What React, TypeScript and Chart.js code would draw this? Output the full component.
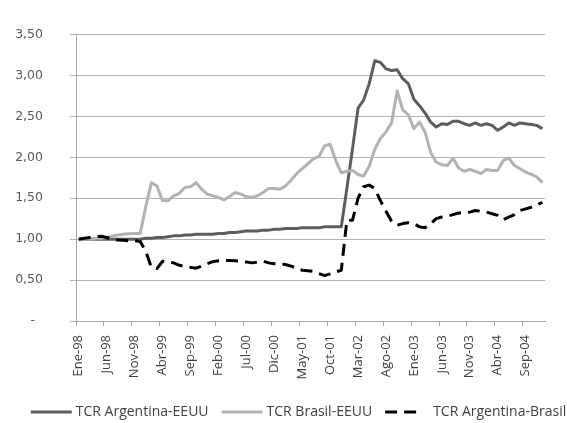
import React, { useEffect, useRef } from 'react';
import { Chart, registerables } from 'chart.js';

Chart.register(...registerables);

const MONTHS = ['Ene', 'Feb', 'Mar', 'Abr', 'May', 'Jun', 'Jul', 'Ago', 'Sep', 'Oct', 'Nov', 'Dic'];
const YEARS = ['98', '99', '00', '01', '02', '03', '04'];
const categories = YEARS.flatMap((y) => MONTHS.map((m) => `${m}-${y}`));
const LABEL_EVERY = 5;

const seriesNames = ['TCR Argentina-EEUU', 'TCR Brasil-EEUU', 'TCR Argentina-Brasil'];

const argEEUU = [
  1.00, 1.00, 1.00, 1.00, 1.00, 1.00, 1.00, 1.00, 1.00, 1.00, 1.00, 1.00,
  1.01, 1.01, 1.02, 1.02, 1.03, 1.04, 1.04, 1.05, 1.05, 1.06, 1.06, 1.06,
  1.06, 1.07, 1.07, 1.08, 1.08, 1.09, 1.10, 1.10, 1.10, 1.11, 1.11, 1.12,
  1.12, 1.13, 1.13, 1.13, 1.14, 1.14, 1.14, 1.14, 1.15, 1.15, 1.15, 1.15,
  1.62, 2.10, 2.60, 2.70, 2.90, 3.18, 3.16, 3.08, 3.06, 3.07, 2.96, 2.90,
  2.71, 2.63, 2.54, 2.43, 2.37, 2.41, 2.40, 2.44, 2.44, 2.41, 2.39, 2.42,
  2.39, 2.41, 2.39, 2.33, 2.37, 2.42, 2.39, 2.42, 2.41, 2.40, 2.39, 2.35,
];

const braEEUU = [
  1.00, 1.00, 1.00, 1.01, 1.01, 1.02, 1.035, 1.05, 1.06, 1.065, 1.07, 1.07,
  1.40, 1.69, 1.65, 1.47, 1.47, 1.53, 1.56, 1.63, 1.64, 1.69, 1.61, 1.55,
  1.53, 1.51, 1.48, 1.52, 1.57, 1.55, 1.52, 1.51, 1.53, 1.57, 1.62, 1.62,
  1.61, 1.65, 1.72, 1.80, 1.86, 1.92, 1.98, 2.01, 2.14, 2.16, 1.96, 1.81,
  1.83, 1.84, 1.79, 1.77, 1.89, 2.10, 2.23, 2.31, 2.42, 2.81, 2.58, 2.52,
  2.35, 2.43, 2.31, 2.06, 1.94, 1.91, 1.90, 1.99, 1.87, 1.83, 1.85, 1.83,
  1.80, 1.85, 1.84, 1.84, 1.96, 1.99, 1.90, 1.86, 1.82, 1.79, 1.76, 1.69,
];

const argBra = [
  1.00, 1.01, 1.02, 1.03, 1.035, 1.02, 1.00, 0.99, 0.985, 0.98, 0.98, 0.97,
  0.85, 0.655, 0.64, 0.73, 0.72, 0.71, 0.68, 0.665, 0.655, 0.645, 0.67, 0.70,
  0.725, 0.735, 0.74, 0.74, 0.735, 0.73, 0.72, 0.71, 0.72, 0.73, 0.71, 0.70,
  0.695, 0.69, 0.67, 0.645, 0.62, 0.615, 0.605, 0.58, 0.555, 0.575, 0.60, 0.62,
  1.23, 1.23, 1.50, 1.64, 1.66, 1.62, 1.47, 1.34, 1.22, 1.17, 1.19, 1.20,
  1.19, 1.15, 1.14, 1.19, 1.25, 1.27, 1.28, 1.30, 1.32, 1.32, 1.33, 1.35,
  1.34, 1.33, 1.31, 1.29, 1.24, 1.27, 1.30, 1.35, 1.37, 1.39, 1.42, 1.45,
];

const Y_MIN = 0;
const Y_MAX = 3.5;
const Y_STEP = 0.5;

const LEGEND_CX = 297;
const LEGEND_Y = 412;

const legendPlugin = {
  id: 'excelLegend',
  afterDraw(chart: any) {
    const ctx = chart.ctx;
    ctx.save();
    ctx.font = "14px 'Open Sans'";
    const sample = 41;
    const gap = 4;
    const itemGap = 13;
    const items = chart.data.datasets.map((ds: any) => ({ ds, w: ctx.measureText(ds.label).width }));
    const total =
      items.reduce((s: number, it: any) => s + sample + gap + it.w, 0) + itemGap * (items.length - 1);
    let x = LEGEND_CX - total / 2;
    const y = LEGEND_Y;
    items.forEach(({ ds, w }: any) => {
      const dash = ds.borderDash || [];
      const len = dash.length ? dash[0] * 2 + dash[1] : sample;
      ctx.beginPath();
      ctx.strokeStyle = ds.borderColor;
      ctx.lineWidth = ds.borderWidth;
      ctx.lineCap = 'butt';
      ctx.setLineDash(dash);
      ctx.moveTo(x, y);
      ctx.lineTo(x + len, y);
      ctx.stroke();
      ctx.setLineDash([]);
      ctx.fillStyle = '#404040';
      ctx.textBaseline = 'middle';
      ctx.textAlign = 'left';
      ctx.fillText(ds.label, x + sample + gap + (dash.length ? 3 : 0), y);
      x += sample + gap + w + itemGap;
    });
    ctx.restore();
  },
};

export default function App() {
  const canvasRef = useRef<HTMLCanvasElement | null>(null);

  useEffect(() => {
    if (!canvasRef.current) return;
    Chart.defaults.font.family = "'Open Sans'";
    const chart = new Chart(canvasRef.current, {
      type: 'line',
      data: {
        labels: categories,
        datasets: [
          {
            label: seriesNames[0],
            data: argEEUU,
            borderColor: '#5d5d5d',
            borderWidth: 3,
            pointRadius: 0,
            tension: 0,
            fill: false,
            borderJoinStyle: 'round',
            order: 3,
          },
          {
            label: seriesNames[1],
            data: braEEUU,
            borderColor: '#b2b2b2',
            borderWidth: 3,
            pointRadius: 0,
            tension: 0,
            fill: false,
            borderJoinStyle: 'round',
            order: 2,
          },
          {
            label: seriesNames[2],
            data: argBra,
            borderColor: '#000000',
            borderWidth: 3,
            borderDash: [12, 7],
            pointRadius: 0,
            tension: 0,
            fill: false,
            borderJoinStyle: 'round',
            order: 1,
          },
        ],
      },
      options: {
        responsive: false,
        animation: false,
        events: [],
        layout: { padding: { top: 14, left: 0, right: 7, bottom: 42 } },
        plugins: { legend: { display: false }, tooltip: { enabled: false } },
        scales: {
          x: {
            type: 'category',
            offset: true,
            grid: {
              offset: true,
              drawOnChartArea: false,
              drawTicks: true,
              tickLength: 5,
              color: (c: any) => (c.index % LABEL_EVERY === 0 ? '#a6a6a6' : 'rgba(0,0,0,0)'),
            },
            border: { display: true, color: '#a6a6a6' },
            ticks: {
              autoSkip: false,
              minRotation: 90,
              maxRotation: 90,
              padding: 9,
              color: '#404040',
              font: { family: "'Open Sans'", size: 13 },
              callback: (_v: any, i: number) => (i % LABEL_EVERY === 0 ? categories[i] : ''),
            },
            afterFit: (s: any) => {
              s.height = 60;
            },
          },
          y: {
            min: Y_MIN,
            max: Y_MAX,
            grid: { color: '#b3b3b3', tickLength: 6 },
            border: { display: true, color: '#a6a6a6' },
            ticks: {
              stepSize: Y_STEP,
              padding: 27,
              color: '#595959',
              font: { family: "'DejaVu Sans'", size: 12.5 },
              callback: (v: any) => (Number(v) === 0 ? '-  ' : Number(v).toFixed(2).replace('.', ',')),
            },
            afterFit: (s: any) => {
              s.width = 76;
            },
          },
        },
      },
      plugins: [legendPlugin],
    } as any);
    return () => chart.destroy();
  }, []);

  return (
    <div style={{ position: 'absolute', left: 0, top: 0, width: 567, height: 423, background: '#ffffff' }}>
      <canvas ref={canvasRef} width={567} height={423} style={{ width: 567, height: 423, display: 'block' }} />
    </div>
  );
}
